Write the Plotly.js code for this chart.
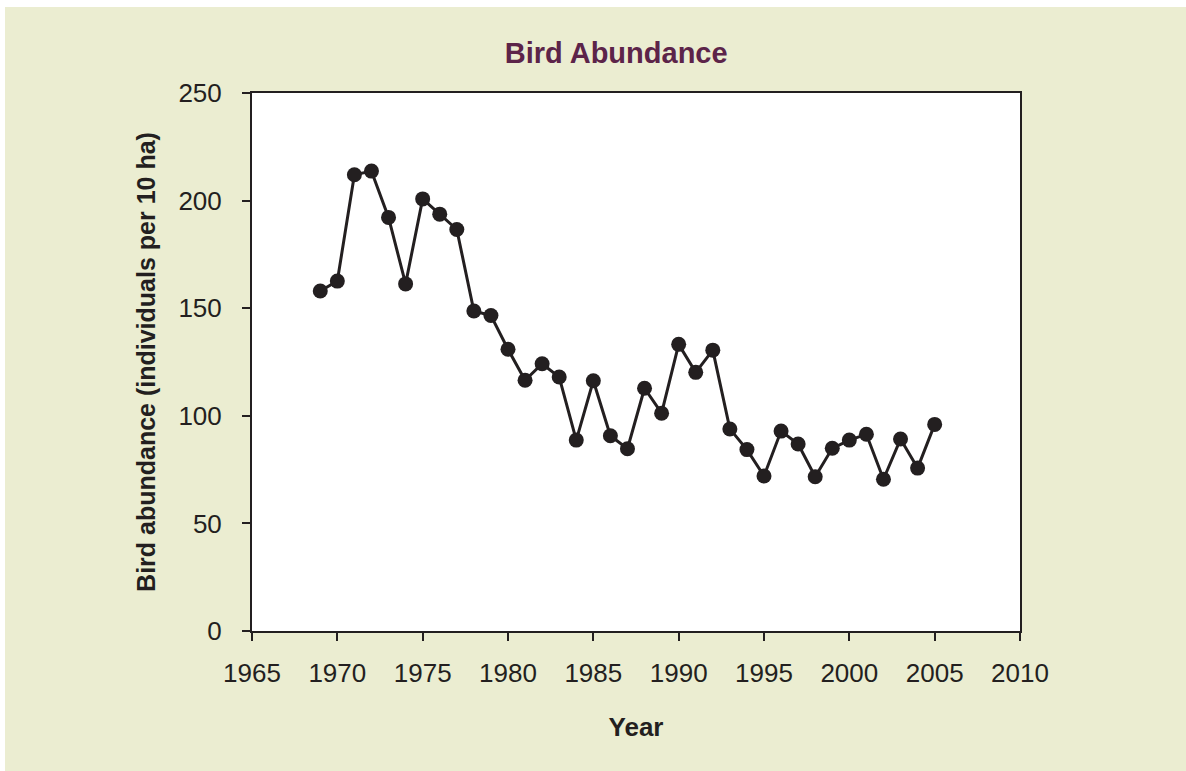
<!DOCTYPE html>
<html>
<head>
<meta charset="utf-8">
<script src="https://cdn.plot.ly/plotly-3.0.1.min.js"></script>
<style>
  html, body { margin: 0; padding: 0; background: #EBEDD1; width: 1186px; height: 771px; overflow: hidden; }
  #topstrip { position: absolute; left: 0; top: 0; width: 1186px; height: 7px; background: #ffffff; }
  #leftstrip { position: absolute; left: 0; top: 0; width: 5px; height: 771px; background: #ffffff; }
  #chart { position: absolute; left: 5px; top: 7px; width: 1181px; height: 764px; }
</style>
</head>
<body>
<div id="topstrip"></div>
<div id="leftstrip"></div>
<div id="chart"></div>
<script>
const years = [1969, 1970, 1971, 1972, 1973, 1974, 1975, 1976, 1977, 1978, 1979,
               1980, 1981, 1982, 1983, 1984, 1985, 1986, 1987, 1988, 1989,
               1990, 1991, 1992, 1993, 1994, 1995, 1996, 1997, 1998, 1999,
               2000, 2001, 2002, 2003, 2004, 2005];
const abundance = [158, 162.6, 212, 213.7, 192.2, 161.3, 200.8, 193.7, 186.6, 148.7, 146.6,
                   130.9, 116.5, 124.2, 118, 88.7, 116.3, 90.7, 84.7, 112.8, 101.2,
                   133.2, 120.2, 130.5, 93.9, 84.3, 72, 92.9, 86.9, 71.7, 84.9,
                   88.7, 91.4, 70.5, 89.2, 75.7, 96];
const xTicks = [1965, 1970, 1975, 1980, 1985, 1990, 1995, 2000, 2005, 2010];
const yTicks = [0, 50, 100, 150, 200, 250];

const ink = '#231F20';
const font = 'Liberation Sans, Arial, Helvetica, sans-serif';

const trace = {
  x: years,
  y: abundance,
  type: 'scatter',
  mode: 'lines+markers',
  line: { color: ink, width: 3 },
  marker: { color: ink, size: 15 },
  hoverinfo: 'x+y',
  showlegend: false
};

const layout = {
  width: 1181,
  height: 764,
  paper_bgcolor: '#EBEDD1',
  plot_bgcolor: '#FFFFFF',
  margin: { l: 246.5, r: 166.3, t: 86.3, b: 140.2, pad: 0 },
  font: { family: font, color: ink },
  title: {
    text: '<b>Bird Abundance</b>',
    font: { family: font, size: 29, color: '#5C2449' },
    xref: 'container', yref: 'container',
    x: 0.5175, xanchor: 'center',
    y: 0.9404, yanchor: 'middle'
  },
  xaxis: {
    range: [1965, 2010],
    tickvals: xTicks,
    ticktext: xTicks.map(String),
    ticks: 'outside', ticklen: 8, tickwidth: 2, tickcolor: ink,
    showline: true, linewidth: 2, linecolor: ink, mirror: true,
    showgrid: false, zeroline: false,
    tickfont: { family: font, size: 26, color: ink },
    ticklabelstandoff: 10,
    automargin: false,
    title: { text: '<b>Year</b>', font: { family: font, size: 26, color: ink }, standoff: 31 }
  },
  yaxis: {
    range: [0, 250],
    tickvals: yTicks,
    ticktext: yTicks.map(String),
    ticks: 'outside', ticklen: 8, tickwidth: 2, tickcolor: ink,
    showline: true, linewidth: 2, linecolor: ink, mirror: true,
    showgrid: false, zeroline: false,
    tickfont: { family: font, size: 26, color: ink },
    ticklabelstandoff: 15,
    automargin: false,
    title: { text: '<b>Bird abundance (individuals per 10 ha)</b>', font: { family: font, size: 25, color: ink }, standoff: 16 }
  }
};

Plotly.newPlot('chart', [trace], layout, { displayModeBar: false, responsive: false });
</script>
</body>
</html>
